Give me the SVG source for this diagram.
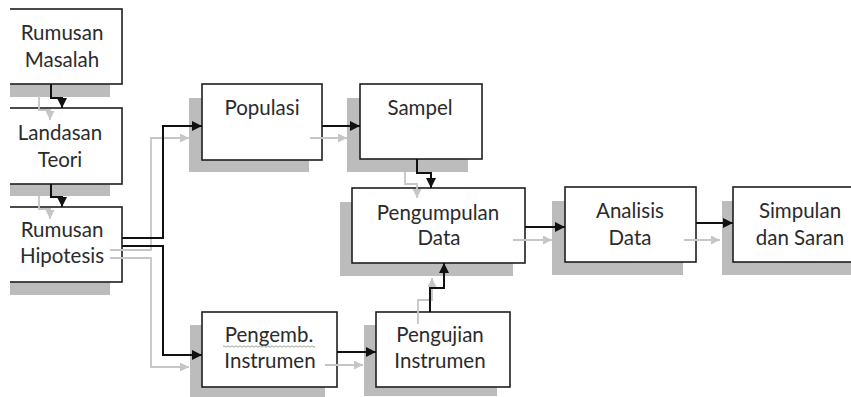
<svg xmlns="http://www.w3.org/2000/svg" width="851" height="397" viewBox="0 0 851 397">
<style>
.sh{fill:#bcbcbc}
.bx{fill:#ffffff;stroke:#1e1e1e;stroke-width:1.6}
.t{font-family:Lato,"Open Sans","Liberation Sans",sans-serif;font-size:20.5px;fill:#2b2b2b;text-anchor:middle}
.c{fill:none;stroke:#111111;stroke-width:2}
.g{fill:none;stroke:#c6c6c6;stroke-width:1.8}
</style>
<defs>
<marker id="ab" viewBox="0 0 10 10" refX="10" refY="5" markerWidth="11" markerHeight="10" markerUnits="userSpaceOnUse" orient="auto"><path d="M0,0 L10,5 L0,10 Z" fill="#111111"/></marker>
<marker id="ag" viewBox="0 0 10 10" refX="10" refY="5" markerWidth="10" markerHeight="9" markerUnits="userSpaceOnUse" orient="auto"><path d="M0,0 L10,5 L0,10 Z" fill="#c6c6c6"/></marker>
</defs>
<rect width="851" height="397" fill="#ffffff"/>
<g id="shadows">
<rect class="sh" x="-3" y="22" width="113" height="75"/>
<rect class="sh" x="-3" y="121" width="113" height="75"/>
<rect class="sh" x="-3" y="220" width="113" height="75"/>
<rect class="sh" x="189" y="98" width="120" height="74"/>
<rect class="sh" x="347" y="98" width="121" height="74"/>
<rect class="sh" x="340" y="202" width="173" height="74"/>
<rect class="sh" x="552" y="201" width="131" height="74"/>
<rect class="sh" x="722" y="201" width="140" height="74"/>
<rect class="sh" x="190" y="325" width="135" height="75"/>
<rect class="sh" x="364" y="325" width="133" height="71"/>
</g>
<g id="n-rumusan-masalah">
<rect class="bx" x="-3" y="9" width="125" height="75"/>
<text class="t" x="62" y="40">Rumusan</text><text class="t" x="62" y="67">Masalah</text>
</g>
<g id="n-landasan-teori">
<rect class="bx" x="-3" y="108" width="125" height="76"/>
<text class="t" x="60" y="140">Landasan</text><text class="t" x="60" y="167">Teori</text>
</g>
<g id="n-rumusan-hipotesis">
<rect class="bx" x="-3" y="207" width="125" height="75"/>
<text class="t" x="62" y="237">Rumusan</text><text class="t" x="62" y="263">Hipotesis</text>
</g>
<g id="n-populasi">
<rect class="bx" x="202" y="84" width="120" height="76"/>
<text class="t" x="262" y="115">Populasi</text>
</g>
<g id="n-sampel">
<rect class="bx" x="360" y="84" width="122" height="75"/>
<text class="t" x="420" y="115">Sampel</text>
</g>
<g id="n-pengumpulan-data">
<rect class="bx" x="352" y="188" width="173" height="75"/>
<text class="t" x="438" y="220">Pengumpulan</text><text class="t" x="439" y="245">Data</text>
</g>
<g id="n-analisis-data">
<rect class="bx" x="565" y="187" width="131" height="75"/>
<text class="t" x="630" y="218">Analisis</text><text class="t" x="630" y="245">Data</text>
</g>
<g id="n-simpulan-dan-saran">
<rect class="bx" x="733" y="187" width="130" height="75"/>
<text class="t" x="800" y="218">Simpulan</text><text class="t" x="800" y="245">dan Saran</text>
</g>
<g id="n-pengemb-instrumen">
<rect class="bx" x="202" y="312" width="135" height="75"/>
<text class="t" x="269" y="342">Pengemb.</text><text class="t" x="270" y="368">Instrumen</text>
<path d="M223,346.5 q1,-1.5 2,0 t2,0 t2,0 t2,0 t2,0 t2,0 t2,0 t2,0 t2,0 t2,0 t2,0 t2,0 t2,0 t2,0 t2,0 t2,0 t2,0 t2,0 t2,0 t2,0 t2,0 t2,0 t2,0 t2,0 t2,0 t2,0 t2,0 t2,0 t2,0 t2,0 t2,0 t2,0 t2,0 t2,0 t2,0 t2,0 t2,0 t2,0 t2,0 t2,0 t2,0 t2,0 t2,0 t2,0 t2,0 t2,0" fill="none" stroke="#9aa596" stroke-width="1"/>
</g>
<g id="n-pengujian-instrumen">
<rect class="bx" x="376" y="312" width="134" height="75"/>
<text class="t" x="440" y="342">Pengujian</text><text class="t" x="440" y="368">Instrumen</text>
</g>
<g id="connectors">
<g id="ghosts">
<path class="g" marker-end="url(#ag)" d="M39,96 V110 H50 V120"/>
<path class="g" marker-end="url(#ag)" d="M39,196 V209 H50 V219"/>
<path class="g" marker-end="url(#ag)" d="M110,250 H151 V138 H189"/>
<path class="g" marker-end="url(#ag)" d="M110,258 H151 V367 H189"/>
<path class="g" marker-end="url(#ag)" d="M310,138 H347"/>
<path class="g" marker-end="url(#ag)" d="M405,172 V184 H417 V198"/>
<path class="g" marker-end="url(#ag)" d="M513,240 H552"/>
<path class="g" marker-end="url(#ag)" d="M684,240 H720"/>
<path class="g" marker-end="url(#ag)" d="M325,365 H363"/>
<path class="g" marker-end="url(#ag)" d="M418,324 V300 H432 V278"/>
</g>
<path class="c" marker-end="url(#ab)" d="M51,84 V98 H62 V108"/>
<path class="c" marker-end="url(#ab)" d="M51,184 V197 H62 V207"/>
<path class="c" marker-end="url(#ab)" d="M122,238 H163 V126 H202"/>
<path class="c" marker-end="url(#ab)" d="M122,246 H163 V355 H202"/>
<path class="c" marker-end="url(#ab)" d="M322,126 H360"/>
<path class="c" marker-end="url(#ab)" d="M417,159 V173 H431 V188"/>
<path class="c" marker-end="url(#ab)" d="M525,227 H565"/>
<path class="c" marker-end="url(#ab)" d="M696,223 H733"/>
<path class="c" marker-end="url(#ab)" d="M337,352 H376"/>
<path class="c" marker-end="url(#ab)" d="M430,312 V288 H444 V263"/>
</g>
<rect x="0" y="0" width="10" height="397" fill="#ffffff"/>
</svg>
